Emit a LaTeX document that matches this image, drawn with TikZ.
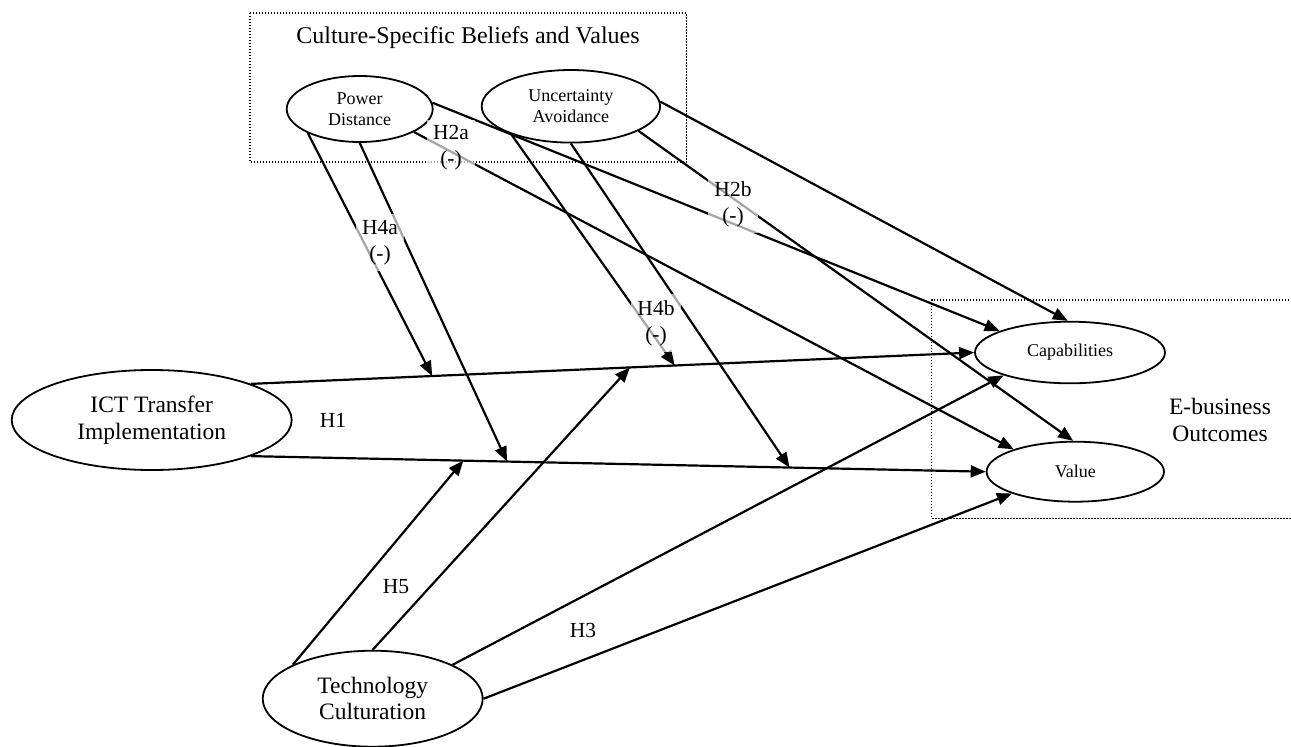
\documentclass[tikz,border=0pt]{standalone}
\usepackage{fontspec}
\setmainfont{Liberation Serif}
\usetikzlibrary{arrows.meta,calc,shapes.geometric}
\begin{document}
\begin{tikzpicture}[x=1pt,y=-1pt,
  oval/.style={ellipse,draw,line width=1.8pt,inner sep=0pt,align=center},
  bigtxt/.style={font=\fontsize{23.5}{26.5}\selectfont},
  smalltxt/.style={font=\fontsize{18}{21.5}\selectfont},
  hyp/.style={font=\fontsize{21.5}{26}\selectfont,align=center,fill=white,fill opacity=0.65,text opacity=1,inner xsep=6pt,inner ysep=6pt},
  link/.style={line width=2.2pt,-{Triangle[length=15pt,width=12pt]}},
  region/.style={line width=1.2pt,dash pattern=on 1.4pt off 1.6pt}
]
\useasboundingbox (0,0) rectangle (1291,747);

% regions
\draw[region] (250,13) rectangle (686.7,162);
\node[font=\fontsize{24}{28}\selectfont] (title) at (468,38) {Culture-Specific Beliefs and Values};
\draw[region] (1295,300) -- (931.7,300) -- (931.7,518.3) -- (1295,518.3);
\node[bigtxt,align=center] (EB) at (1220,420) {E-business\\Outcomes};

% constructs
\node[oval,smalltxt,minimum width=146pt,minimum height=66pt] (PD) at (359.7,109) {Power\\Distance};
\node[oval,smalltxt,minimum width=178.4pt,minimum height=72.6pt] (UA) at (570.9,106.3) {Uncertainty\\Avoidance};
\node[oval,bigtxt,minimum width=280pt,minimum height=100pt] (ICT) at (151.7,420) {ICT Transfer\\Implementation};
\node[oval,bigtxt,minimum width=220pt,minimum height=96pt] (TC) at (372.7,698.7) {Technology\\Culturation};
\node[oval,smalltxt,minimum width=190pt,minimum height=61.6pt] (CAP) at (1070,352.5) {Capabilities};
\node[oval,smalltxt,minimum width=177.4pt,minimum height=60pt] (VAL) at (1075.3,471.7) {Value};

% main paths
\draw[link] (ICT.20) -- (CAP.west);
\draw[link] (ICT.340) -- (VAL.west);

% moderation targets on the main paths
\coordinate (t4a) at ($(ICT.20)!0.2506!(CAP.west)$);
\coordinate (t4b) at ($(ICT.20)!0.586!(CAP.west)$);
\coordinate (tTC2) at ($(ICT.20)!0.524!(CAP.west)$);
\coordinate (tPD2) at ($(ICT.340)!0.3485!(VAL.west)$);
\coordinate (tUA2) at ($(ICT.340)!0.733!(VAL.west)$);
\coordinate (tH5) at ($(ICT.340)!0.289!(VAL.west)$);

\draw[link] (PD.205) -- (t4a);
\draw[link] (PD.270) -- (tPD2);
\draw[link] (PD.5) -- (CAP.163);
\draw[link] (PD.337) -- (VAL.160);
\draw[link] (UA.205) -- (t4b);
\draw[link] (UA.270) -- (tUA2);
\draw[link] (UA.340) -- (VAL.94);
\draw[link] (UA.3) -- (CAP.94);
\draw[link] (TC.157) -- (tH5);
\draw[link] (TC.90) -- (tTC2);
\draw[link] (TC.23) -- (CAP.199);
\draw[link] (TC.east) -- (VAL.199);

% hypothesis labels
\node[hyp] (h2a) at (451,148) {H2a\\(-)};
\node[hyp] (h2b) at (733,204) {H2b\\(-)};
\node[hyp] (h4a) at (380,242.5) {H4a\\(-)};
\node[hyp] (h4b) at (656,323) {H4b\\(-)};
\node[hyp] (h1) at (333,420) {H1};
\node[hyp] (h5) at (396,587) {H5};
\node[hyp] (h3) at (583,630) {H3};
\end{tikzpicture}
\end{document}
